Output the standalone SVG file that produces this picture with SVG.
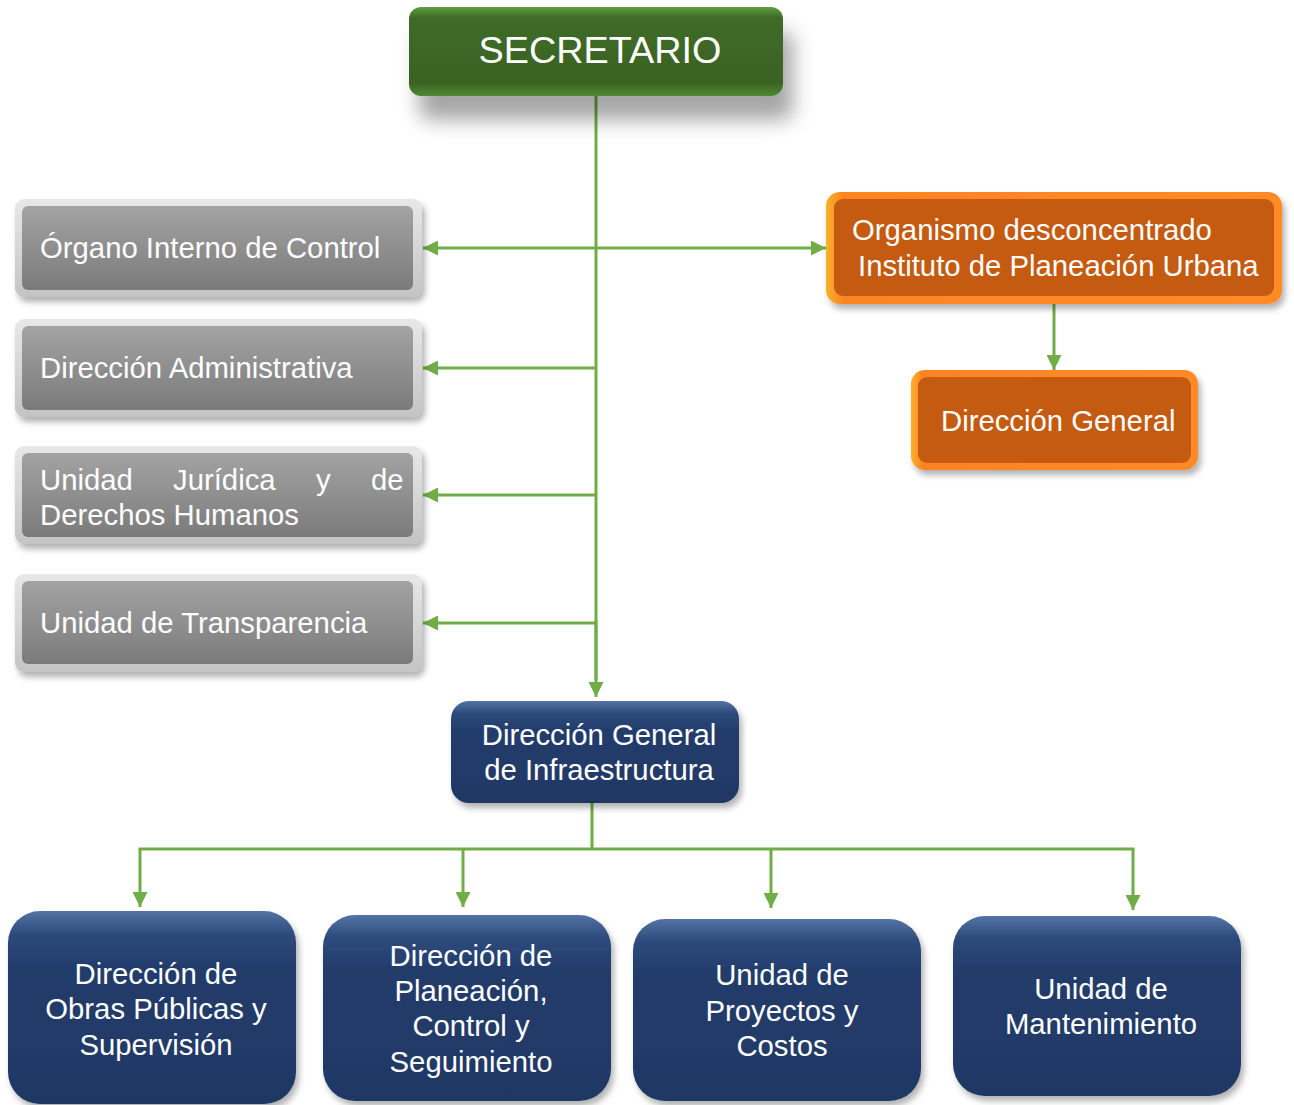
<svg xmlns="http://www.w3.org/2000/svg" width="1294" height="1105" viewBox="0 0 1294 1105">
<defs>
<linearGradient id="gGreen" x1="0" y1="0" x2="0" y2="1">
<stop offset="0" stop-color="#5f9e3f"/><stop offset="0.12" stop-color="#3f6b27"/><stop offset="0.85" stop-color="#3a6223"/><stop offset="1" stop-color="#4f8a33"/>
</linearGradient>
<linearGradient id="gGrayOuter" x1="0" y1="0" x2="0" y2="1">
<stop offset="0" stop-color="#e8e8e8"/><stop offset="1" stop-color="#c4c4c4"/>
</linearGradient>
<linearGradient id="gGrayInner" x1="0" y1="0" x2="0" y2="1">
<stop offset="0" stop-color="#a3a3a3"/><stop offset="1" stop-color="#7b7b7b"/>
</linearGradient>
<linearGradient id="gOrangeOuter" x1="0" y1="0" x2="1" y2="0">
<stop offset="0" stop-color="#fbb12a"/><stop offset="0.04" stop-color="#fd8424"/><stop offset="1" stop-color="#ff8a27"/>
</linearGradient>
<linearGradient id="gNavy" x1="0" y1="0" x2="0" y2="1">
<stop offset="0" stop-color="#5673a6"/><stop offset="0.12" stop-color="#2d4b7c"/><stop offset="0.3" stop-color="#223c6b"/><stop offset="1" stop-color="#1f3864"/>
</linearGradient>
<filter id="shBig" x="-20%" y="-30%" width="150%" height="200%">
<feDropShadow dx="10" dy="24" stdDeviation="10" flood-color="#000" flood-opacity="0.35"/>
</filter>
<filter id="sh" x="-10%" y="-20%" width="130%" height="150%">
<feDropShadow dx="3" dy="5" stdDeviation="3" flood-color="#000" flood-opacity="0.3"/>
</filter>
<marker id="ah" viewBox="0 0 10 10" refX="10" refY="5" markerWidth="5.5" markerHeight="5" markerUnits="strokeWidth" orient="auto">
<path d="M0,0 L10,5 L0,10 z" fill="#70ad47"/>
</marker>
<style>
.t{font-family:"Liberation Sans",Arial,sans-serif;fill:#ffffff;font-size:29.3px}
.c{text-anchor:middle}
.ln{stroke:#70ad47;stroke-width:3;fill:none}
.lnA{stroke:#70ad47;stroke-width:3;fill:none;marker-end:url(#ah)}
.go{fill:url(#gGrayOuter)}
.gi{fill:url(#gGrayInner)}
.oo{fill:url(#gOrangeOuter)}
.oi{fill:#c55a11}
.nv{fill:url(#gNavy)}
</style>
</defs>
<rect width="1294" height="1105" fill="#ffffff"/>

<g id="connectors">
<line class="ln" x1="596" y1="96" x2="596" y2="680"/>
<line class="lnA" x1="596" y1="620" x2="596" y2="697"/>
<line class="lnA" x1="596" y1="248" x2="423" y2="248"/>
<line class="lnA" x1="596" y1="248" x2="826" y2="248"/>
<line class="lnA" x1="596" y1="368" x2="423" y2="368"/>
<line class="lnA" x1="596" y1="495" x2="423" y2="495"/>
<line class="lnA" x1="596" y1="623" x2="423" y2="623"/>
<line class="lnA" x1="1054" y1="304" x2="1054" y2="370"/>
<line class="ln" x1="592" y1="803" x2="592" y2="849"/>
<line class="ln" x1="138.5" y1="849" x2="1134.5" y2="849"/>
<line class="lnA" x1="140" y1="849" x2="140" y2="907"/>
<line class="lnA" x1="463" y1="849" x2="463" y2="907"/>
<line class="lnA" x1="771" y1="849" x2="771" y2="908"/>
<line class="lnA" x1="1133" y1="849" x2="1133" y2="910"/>
</g>

<g id="secretario">
<rect x="409" y="7" width="374" height="89" rx="12" fill="url(#gGreen)" filter="url(#shBig)"/>
<text class="t c" x="600" y="63" style="font-size:37.8px">SECRETARIO</text>
</g>

<g id="organo-interno">
<rect class="go" x="15" y="199" width="407" height="98" rx="9" filter="url(#sh)"/>
<rect class="gi" x="22" y="206" width="391" height="84" rx="6"/>
<text class="t" x="40" y="258">Órgano Interno de Control</text>
</g>

<g id="direccion-administrativa">
<rect class="go" x="15" y="319" width="407" height="98" rx="9" filter="url(#sh)"/>
<rect class="gi" x="22" y="326" width="391" height="84" rx="6"/>
<text class="t" x="40" y="378">Dirección Administrativa</text>
</g>

<g id="unidad-juridica">
<rect class="go" x="15" y="446" width="407" height="98" rx="9" filter="url(#sh)"/>
<rect class="gi" x="22" y="453" width="391" height="84" rx="6"/>
<text class="t" y="490"><tspan x="40">Unidad</tspan><tspan x="173">Jurídica</tspan><tspan x="316">y</tspan><tspan x="371">de</tspan></text>
<text class="t" x="40" y="525">Derechos Humanos</text>
</g>

<g id="unidad-transparencia">
<rect class="go" x="15" y="574" width="407" height="98" rx="9" filter="url(#sh)"/>
<rect class="gi" x="22" y="581" width="391" height="83" rx="6"/>
<text class="t" x="40" y="633">Unidad de Transparencia</text>
</g>

<g id="organismo-desconcentrado">
<rect class="oo" x="826" y="192" width="456" height="112" rx="14" filter="url(#sh)"/>
<rect class="oi" x="834" y="199" width="440" height="97" rx="9"/>
<text class="t" x="852" y="240">Organismo desconcentrado</text>
<text class="t" x="858" y="276">Instituto de Planeación Urbana</text>
</g>

<g id="direccion-general-ipu">
<rect class="oo" x="911" y="370" width="287" height="100" rx="14" filter="url(#sh)"/>
<rect class="oi" x="918" y="377" width="273" height="86" rx="9"/>
<text class="t" x="941" y="431">Dirección General</text>
</g>

<g id="direccion-general-infraestructura">
<rect class="nv" x="451" y="701" width="288" height="102" rx="18" filter="url(#sh)"/>
<text class="t c" x="599" y="745">Dirección General</text>
<text class="t c" x="599" y="780">de Infraestructura</text>
</g>

<g id="obras-publicas">
<rect class="nv" x="8" y="911" width="288" height="193" rx="32" filter="url(#sh)"/>
<text class="t c" x="156" y="984">Dirección de</text>
<text class="t c" x="156" y="1019">Obras Públicas y</text>
<text class="t c" x="156" y="1055">Supervisión</text>
</g>

<g id="planeacion-control">
<rect class="nv" x="323" y="915" width="288" height="186" rx="32" filter="url(#sh)"/>
<text class="t c" x="471" y="966">Dirección de</text>
<text class="t c" x="471" y="1001">Planeación,</text>
<text class="t c" x="471" y="1036">Control y</text>
<text class="t c" x="471" y="1072">Seguimiento</text>
</g>

<g id="proyectos-costos">
<rect class="nv" x="633" y="919" width="288" height="182" rx="32" filter="url(#sh)"/>
<text class="t c" x="782" y="985">Unidad de</text>
<text class="t c" x="782" y="1021">Proyectos y</text>
<text class="t c" x="782" y="1056">Costos</text>
</g>

<g id="mantenimiento">
<rect class="nv" x="953" y="916" width="288" height="180" rx="32" filter="url(#sh)"/>
<text class="t c" x="1101" y="999">Unidad de</text>
<text class="t c" x="1101" y="1034">Mantenimiento</text>
</g>
</svg>
